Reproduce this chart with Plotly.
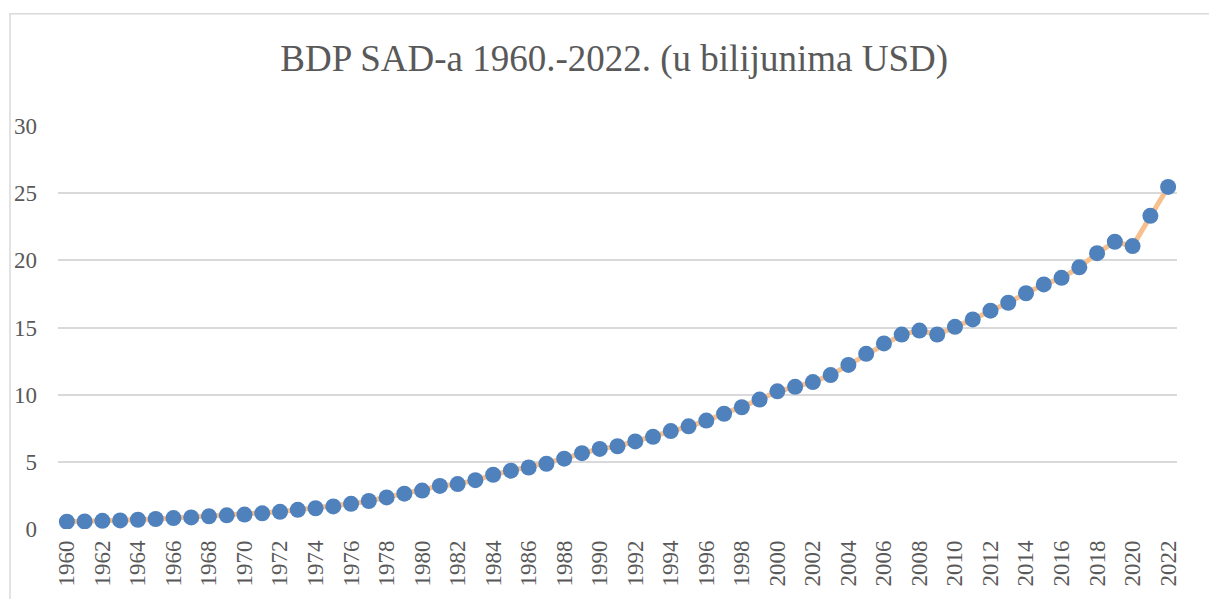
import plotly.graph_objects as go

years = list(range(1960, 2023))
gdp = [0.543, 0.563, 0.605, 0.639, 0.686, 0.744, 0.815, 0.862, 0.943, 1.019,
       1.073, 1.165, 1.280, 1.425, 1.545, 1.684, 1.873, 2.082, 2.352, 2.627,
       2.857, 3.207, 3.343, 3.634, 4.037, 4.339, 4.580, 4.855, 5.236, 5.642,
       5.963, 6.158, 6.520, 6.859, 7.287, 7.640, 8.073, 8.578, 9.063, 9.631,
       10.251, 10.582, 10.936, 11.458, 12.214, 13.037, 13.815, 14.474, 14.770, 14.478,
       15.049, 15.600, 16.254, 16.843, 17.551, 18.206, 18.695, 19.477, 20.533, 21.381,
       21.060, 23.315, 25.463]
tick_years = list(range(1960, 2023, 2))
title_text = "BDP SAD-a 1960.-2022. (u bilijunima USD)"

fig = go.Figure()
fig.add_trace(go.Scatter(
    x=years, y=gdp, mode="lines+markers",
    line=dict(color="#F8C08F", width=5),
    marker=dict(color="#4F81BD", size=16, line=dict(width=0)),
    showlegend=False, hoverinfo="x+y",
))

fig.update_layout(
    width=1209, height=599,
    margin=dict(l=58, r=32, t=126, b=67),
    paper_bgcolor="white", plot_bgcolor="white",
    font=dict(family="Liberation Serif, Times New Roman, serif", color="#595959", size=22),
    title=dict(text=title_text, x=0.508, xref="container", xanchor="center",
               y=1 - 58 / 599, yref="container", yanchor="middle",
               font=dict(size=37, color="#595959")),
    xaxis=dict(range=[1959.5, 2022.5], tickvals=tick_years, ticktext=[str(y) for y in tick_years],
               tickangle=-90, showgrid=False, zeroline=False, showline=False,
               ticks="", ticklabelstandoff=6, tickfont=dict(size=23, color="#595959")),
    yaxis=dict(range=[0, 30], dtick=5, showgrid=True, gridcolor="#D9D9D9", gridwidth=1.5,
               zeroline=False, showline=False, ticks="", ticklabelstandoff=20,
               tickfont=dict(size=23, color="#595959")),
    shapes=[dict(type="rect", xref="paper", yref="paper",
                 x0=(10 - 58) / 1119, x1=(1230 - 58) / 1119,
                 y0=(532 - 620) / 406, y1=(532 - 13) / 406,
                 line=dict(color="#D9D9D9", width=1.5), layer="below")],
)

fig.write_html("out.html", config={"displayModeBar": False},
               post_script="document.body.style.margin='0';")
